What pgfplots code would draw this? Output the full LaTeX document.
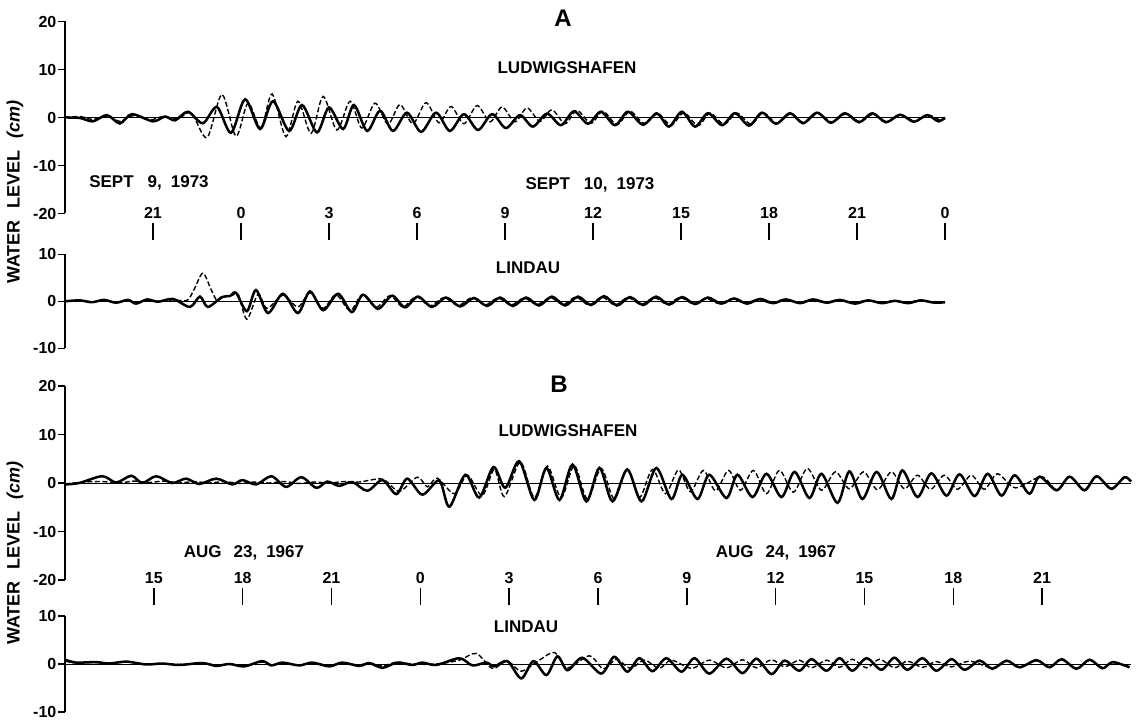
\documentclass[border=0pt]{standalone}
\usepackage{fontspec}
\setmainfont{Liberation Sans}
\usepackage{pgfplots}
\pgfplotsset{compat=1.18}
\pgfplotsset{
  data axis/.style={scale only axis, anchor=south west, width=880pt,
    axis y line=left, axis x line=none, axis line style={-, line width=1.4pt},
    tick align=outside, major tick length=7pt, ytick style={line width=1.4pt, black},
    yticklabel style={font=\fontsize{16}{16}\selectfont\bfseries, inner sep=1.5pt}, clip=false},
  ruler/.style={scale only axis, anchor=south west, width=880pt, height=17pt,
    ymin=0, ymax=1, axis line style={draw=none}, ytick=\empty,
    xtick pos=left, xticklabel pos=right, tick align=inside, major tick length=17pt,
    xtick style={line width=1.4pt, black},
    xticklabel style={font=\fontsize{16}{16}\selectfont\bfseries, inner sep=1pt, yshift=3pt}},
  sol/.style={black, line width=2.5pt, smooth, no markers},
  dsh/.style={black, line width=1.4pt, smooth, no markers, dash pattern=on 5pt off 2.5pt},
  zl/.style={black, line width=0.9pt, no markers},
}
\newcommand{\lab}{\fontsize{17}{17}\selectfont\bfseries}
\begin{document}
\begin{tikzpicture}
\useasboundingbox (0pt,0pt) rectangle (1140pt,720pt);
% ---------------- Panel A, Ludwigshafen ----------------
\begin{axis}[data axis, at={(65pt,506.5pt)}, height=192pt, xmin=-6, xmax=24, ymin=-20, ymax=20,
  ytick={-20,-10,0,10,20}, yticklabels={-20,-10,0,10,20}]
\addplot[zl] coordinates {(-6,0) (24,0)};
\addplot[sol] coordinates {(-6.00,0) (-5.49,-0.1) (-5.05,-0.8) (-4.57,0.5) (-4.13,-1.25) (-3.72,0.7) (-3.00,-0.8) (-2.59,0.2) (-2.25,-0.6) (-1.81,1.2) (-1.30,-1.2) (-0.82,2.2) (-0.34,-3.2) (0.14,3.8) (0.65,-2.4) (1.09,3.4) (1.64,-2.8) (2.08,2.6) (2.59,-3.1) (3.00,2.1) (3.48,-2.4) (3.85,2.6) (4.30,-2.8) (4.74,1.4) (5.18,-2.8) (5.66,1.0) (6.14,-3.0) (6.65,1.0) (7.12,-2.8) (7.60,0.7) (8.08,-2.6) (8.56,0.7) (9.03,-2.2) (9.51,0.5) (9.95,-1.9) (10.43,0.8) (10.91,-1.6) (11.35,1.3) (11.83,-1.3) (12.27,1.2) (12.75,-1.6) (13.19,1.2) (13.70,-1.5) (14.18,0.8) (14.59,-1.9) (15.03,1.2) (15.48,-1.9) (15.92,0.9) (16.40,-1.6) (16.84,0.9) (17.32,-1.7) (17.76,1.0) (18.24,-1.3) (18.72,0.9) (19.16,-1.2) (19.64,1.0) (20.11,-1.1) (20.59,0.9) (21.07,-1.0) (21.52,0.9) (21.99,-1.0) (22.47,0.6) (22.94,-0.9) (23.39,0.5) (23.77,-0.8) (24.00,0.0)};
\addplot[dsh] coordinates {(-6.00,0) (-5.49,0.2) (-5.05,-0.4) (-4.57,0.3) (-4.13,-0.8) (-3.68,0.4) (-3.10,-0.5) (-2.66,0.2) (-2.15,-0.3) (-1.70,1.0) (-1.16,-4.2) (-0.65,4.8) (-0.17,-3.9) (0.24,3.0) (0.68,-2.2) (1.06,4.9) (1.53,-4.0) (1.94,3.4) (2.39,-3.3) (2.80,4.4) (3.27,-2.6) (3.72,3.4) (4.12,-2.2) (4.57,3.0) (5.01,-1.4) (5.42,2.7) (5.86,-1.3) (6.31,3.1) (6.75,-1.1) (7.16,2.3) (7.60,-1.3) (8.05,2.5) (8.49,-0.9) (8.90,2.2) (9.34,-0.9) (9.75,2.0) (10.19,-0.8) (10.60,1.6) (11.05,-1.3) (11.45,1.5) (11.93,-1.2) (12.34,1.3) (12.82,-1.5) (13.26,1.3) (13.74,-1.2) (14.18,1.0) (14.66,-1.6) (15.10,1.0) (15.58,-1.7) (15.99,0.9) (16.47,-1.4) (16.91,0.9) (17.39,-1.4) (17.80,1.0) (18.27,-1.2) (18.75,0.8) (19.19,-1.1) (19.67,0.9) (20.15,-1.0) (20.63,0.8) (21.10,-0.9) (21.55,0.7) (22.02,-0.9) (22.50,0.5) (22.98,-0.8) (23.42,0.5) (23.83,-0.5) (24.00,-0.3)};
\end{axis}
% ruler A
\begin{axis}[ruler, at={(65pt,480pt)}, xmin=-6, xmax=24,
  xtick={-3,0,3,6,9,12,15,18,21,24}, xticklabels={21,0,3,6,9,12,15,18,21,0}]
\addplot[draw=none] coordinates {(0,0.5)};
\end{axis}
% ---------------- Panel A, Lindau ----------------
\begin{axis}[data axis, at={(65pt,371.7pt)}, height=94pt, xmin=-6, xmax=24, ymin=-10, ymax=10,
  ytick={-10,0,10}, yticklabels={-10,0,10}]
\addplot[zl] coordinates {(-6,0) (24,0)};
\addplot[sol] coordinates {(-6.00,0) (-5.49,0.2) (-5.08,-0.2) (-4.67,0.3) (-4.26,-0.3) (-3.85,0.3) (-3.58,-0.5) (-3.20,0.4) (-2.83,-0.1) (-2.32,0.5) (-1.74,-1.2) (-1.40,1.0) (-1.13,-1.2) (-0.65,0.9) (-0.38,1.1) (-0.17,1.8) (0.20,-2.1) (0.51,2.4) (0.92,-2.5) (1.43,1.6) (1.94,-2.5) (2.35,2.1) (2.80,-1.9) (3.31,1.6) (3.78,-2.3) (4.16,1.4) (4.67,-1.6) (5.15,1.2) (5.59,-1.3) (6.03,1.0) (6.51,-1.2) (6.99,0.8) (7.47,-1.1) (7.94,0.7) (8.39,-1.0) (8.83,0.8) (9.27,-1.0) (9.72,0.8) (10.16,-0.9) (10.60,1.0) (11.05,-0.9) (11.49,1.0) (11.93,-0.8) (12.38,1.1) (12.82,-0.9) (13.26,0.9) (13.71,-0.8) (14.15,1.0) (14.59,-0.7) (15.04,0.9) (15.48,-0.6) (15.92,0.8) (16.37,-0.5) (16.81,0.6) (17.25,-0.5) (17.70,0.5) (18.14,-0.4) (18.58,0.4) (19.06,-0.4) (19.50,0.4) (19.98,-0.3) (20.42,0.3) (20.93,-0.5) (21.38,0.2) (21.85,-0.4) (22.30,0.1) (22.74,-0.4) (23.18,0.2) (23.63,-0.3) (24.00,-0.2)};
\addplot[dsh] coordinates {(-6.00,0) (-5.49,0.1) (-5.08,-0.1) (-4.67,0.2) (-4.26,-0.2) (-3.85,0.1) (-3.58,-0.3) (-3.20,0.2) (-2.83,0.0) (-2.32,0.3) (-1.84,0.2) (-1.60,2.5) (-1.30,6.0) (-1.02,2.5) (-0.82,0.2) (-0.58,1.0) (-0.31,1.2) (-0.10,1.6) (0.20,-3.8) (0.58,1.5) (0.89,-1.5) (1.43,1.3) (1.94,-1.2) (2.35,1.8) (2.80,-1.5) (3.24,1.4) (3.72,-2.0) (4.13,1.4) (4.60,-1.3) (5.08,1.2) (5.52,-1.2) (5.97,1.0) (6.44,-1.0) (6.92,0.8) (7.40,-0.9) (7.88,0.8) (8.32,-0.8) (8.76,0.7) (9.21,-0.8) (9.65,0.7) (10.09,-0.7) (10.54,0.8) (10.98,-0.7) (11.42,0.9) (11.86,-0.8) (12.31,0.9) (12.75,-0.8) (13.19,0.8) (13.64,-0.7) (14.08,0.8) (14.52,-0.6) (14.97,0.8) (15.41,-0.5) (15.85,0.6) (16.30,-0.5) (16.74,0.5) (17.18,-0.4) (17.63,0.4) (18.07,-0.4) (18.51,0.4) (18.99,-0.3) (19.43,0.3) (19.91,-0.3) (20.35,0.3) (20.87,-0.4) (21.31,0.2) (21.79,-0.3) (22.23,0.1) (22.67,-0.3) (23.12,0.2) (23.56,-0.2) (24.00,-0.2)};
\end{axis}
% ---------------- Panel B, Ludwigshafen ----------------
\begin{axis}[data axis, at={(65pt,140pt)}, width=1066pt, height=194pt, xmin=-12, xmax=24, ymin=-20, ymax=20,
  ytick={-20,-10,0,10,20}, yticklabels={-20,-10,0,10,20}]
\addplot[zl] coordinates {(-12,0) (24,0)};
\addplot[sol] coordinates {(-12.00,-0.3) (-11.52,0.0) (-10.74,1.4) (-10.27,0.1) (-9.76,1.5) (-9.39,0.0) (-8.92,1.4) (-8.38,0.0) (-7.91,0.9) (-7.47,-0.2) (-6.89,0.9) (-6.35,-0.3) (-6.01,0.6) (-5.54,-0.3) (-5.03,1.4) (-4.53,-0.8) (-4.02,1.2) (-3.51,-1.0) (-3.14,0.3) (-2.74,-0.6) (-2.30,0.2) (-1.79,-1.6) (-1.28,0.6) (-0.81,-2.3) (-0.44,0.9) (0.07,-2.4) (0.64,0.5) (0.98,-4.9) (1.52,1.7) (1.99,-3.0) (2.47,3.3) (2.87,-1.0) (3.34,4.5) (3.85,-3.5) (4.26,3.1) (4.70,-3.5) (5.14,3.8) (5.61,-3.8) (6.05,3.1) (6.49,-3.8) (6.99,2.8) (7.47,-3.8) (7.97,3.1) (8.48,-3.3) (8.85,1.7) (9.36,-3.3) (9.76,1.7) (10.34,-3.1) (10.71,1.7) (11.22,-2.9) (11.69,1.9) (12.20,-2.9) (12.64,2.3) (13.14,-3.1) (13.55,1.9) (14.09,-4.1) (14.49,2.4) (14.93,-3.3) (15.41,2.3) (15.91,-3.3) (16.28,2.6) (16.79,-2.9) (17.26,2.0) (17.77,-2.6) (18.21,1.8) (18.72,-2.7) (19.16,1.9) (19.63,-2.6) (20.07,1.6) (20.57,-2.2) (20.91,1.3) (21.49,-1.5) (21.93,1.3) (22.43,-1.5) (22.84,1.4) (23.34,-1.2) (23.78,1.2) (24.00,0.3)};
\addplot[dsh] coordinates {(-12.00,-0.2) (-11.35,0.2) (-10.74,0.3) (-10.17,0.0) (-9.66,0.4) (-9.16,0.1) (-8.65,0.4) (-8.14,0.0) (-7.64,0.3) (-7.13,0.0) (-6.62,0.3) (-6.11,-0.1) (-5.61,0.2) (-5.10,0.0) (-4.59,0.3) (-4.09,-0.1) (-3.58,0.2) (-3.07,0.0) (-2.57,0.3) (-2.06,0.2) (-1.28,0.8) (-0.71,-1.7) (-0.10,1.2) (0.24,-0.8) (0.57,1.0) (1.15,-2.2) (1.59,1.6) (2.09,-2.6) (2.50,2.8) (2.84,-2.8) (3.38,4.3) (3.85,-3.0) (4.29,3.5) (4.76,-3.0) (5.20,3.6) (5.64,-3.3) (6.11,3.0) (6.55,-3.3) (6.99,2.8) (7.40,-3.0) (7.84,2.8) (8.28,-2.2) (8.72,2.7) (9.12,-1.8) (9.56,2.6) (9.97,-1.6) (10.41,2.6) (10.81,-1.5) (11.25,2.6) (11.69,-2.2) (12.13,2.6) (12.60,-1.9) (13.07,3.0) (13.55,-1.5) (14.02,2.3) (14.49,-1.2) (14.97,2.3) (15.44,-1.4) (15.91,2.3) (16.35,-1.2) (16.79,1.6) (17.23,-1.3) (17.70,1.6) (18.14,-1.3) (18.61,1.6) (19.05,-1.3) (19.49,1.9) (20.10,-1.0) (20.98,1.3) (21.49,-1.4) (21.93,1.3) (22.43,-1.4) (22.84,1.3) (23.34,-1.1) (23.78,1.1) (24.00,0.4)};
\end{axis}
% ruler B
\begin{axis}[ruler, at={(65pt,115pt)}, width=1066pt, xmin=-12, xmax=24,
  xtick={-9,-6,-3,0,3,6,9,12,15,18,21}, xticklabels={15,18,21,0,3,6,9,12,15,18,21}]
\addplot[draw=none] coordinates {(0,0.5)};
\end{axis}
% ---------------- Panel B, Lindau ----------------
\begin{axis}[data axis, at={(65pt,8pt)}, width=1066pt, height=96pt, xmin=-12, xmax=24, ymin=-10, ymax=10,
  ytick={-10,0,10}, yticklabels={-10,0,10}]
\addplot[zl] coordinates {(-12,0) (24,0)};
\addplot[sol] coordinates {(-12.00,0.9) (-11.62,0.3) (-10.95,0.4) (-10.51,0.1) (-9.93,0.5) (-9.26,-0.1) (-8.72,0.1) (-8.14,-0.2) (-7.36,0.2) (-6.89,-0.4) (-6.45,0.0) (-5.95,-0.5) (-5.34,0.6) (-5.03,-0.3) (-4.66,0.3) (-4.09,-0.3) (-3.65,0.3) (-3.07,-0.5) (-2.64,0.3) (-2.06,-0.4) (-1.72,0.2) (-1.28,-0.8) (-0.78,0.3) (-0.27,-0.2) (0.07,0.3) (0.54,-0.2) (1.32,1.2) (1.76,-0.3) (2.23,0.3) (2.50,-0.5) (2.94,0.6) (3.41,-3.0) (3.82,0.6) (4.26,-2.3) (4.63,1.6) (4.97,-1.3) (5.47,1.3) (6.11,-2.0) (6.55,1.5) (6.99,-1.6) (7.40,1.2) (7.84,-1.5) (8.31,1.2) (8.82,-1.6) (9.26,1.2) (9.76,-2.0) (10.34,1.1) (10.88,-1.9) (11.35,1.1) (11.86,-2.1) (12.30,0.7) (12.80,-1.4) (13.21,1.0) (13.72,-1.4) (14.16,1.2) (14.59,-1.4) (15.07,1.2) (15.57,-1.2) (16.01,1.3) (16.45,-1.2) (16.96,1.2) (17.43,-1.4) (17.94,1.0) (18.38,-1.2) (18.89,0.7) (19.32,-1.0) (19.80,0.7) (20.24,-0.7) (20.81,0.8) (21.25,-0.7) (21.66,1.0) (22.16,-1.0) (22.60,0.9) (23.04,-0.9) (23.38,0.4) (23.95,-0.7)};
\addplot[dsh] coordinates {(-12.00,0.6) (-11.62,0.2) (-10.95,0.3) (-10.51,0.1) (-9.93,0.4) (-9.26,0.0) (-8.72,0.1) (-8.14,-0.1) (-7.36,0.2) (-6.89,-0.3) (-6.45,0.0) (-5.95,-0.3) (-5.34,0.4) (-5.03,-0.2) (-4.66,0.2) (-4.09,-0.2) (-3.65,0.2) (-3.07,-0.3) (-2.64,0.2) (-2.06,-0.2) (-1.72,0.2) (-1.28,-0.4) (-0.78,0.4) (-0.27,0.0) (0.54,0.0) (1.32,0.8) (1.89,2.2) (2.43,-0.9) (2.94,0.6) (3.41,-1.5) (4.02,0.8) (4.53,2.4) (4.97,-0.8) (5.71,1.7) (6.18,-1.0) (6.62,1.0) (7.09,-0.9) (7.57,0.8) (8.07,-0.9) (8.48,0.8) (9.16,-0.9) (9.76,0.8) (10.34,-0.8) (10.88,0.9) (11.35,-0.8) (11.86,0.9) (12.30,-0.6) (12.80,0.8) (13.21,-0.8) (13.72,0.8) (14.16,-0.7) (14.59,1.0) (15.07,-0.8) (15.51,1.0) (16.01,-0.8) (16.45,0.6) (16.96,-0.7) (17.43,0.5) (17.94,-0.6) (18.55,0.6) (19.32,-0.8) (19.80,0.6) (20.24,-0.6) (20.81,0.7) (21.25,-0.6) (21.66,0.9) (22.16,-0.9) (22.60,0.8) (23.04,-0.8) (23.38,0.3) (23.95,-0.6)};
\end{axis}
% ---------------- Text ----------------
\node[font=\fontsize{24}{24}\selectfont\bfseries] at (563pt,702pt) {A};
\node[font=\lab] at (567pt,652pt) {LUDWIGSHAFEN};
\node[font=\lab] at (149pt,537pt) {SEPT\hspace{14pt}9,\hspace{9pt}1973};
\node[font=\lab] at (590pt,535pt) {SEPT\hspace{14pt}10,\hspace{9pt}1973};
\node[font=\lab] at (528pt,452pt) {LINDAU};
\node[font=\fontsize{24}{24}\selectfont\bfseries] at (559pt,336pt) {B};
\node[font=\lab] at (568pt,289pt) {LUDWIGSHAFEN};
\node[font=\lab] at (244pt,167pt) {AUG\hspace{12pt}23,\hspace{9pt}1967};
\node[font=\lab] at (776pt,167pt) {AUG\hspace{12pt}24,\hspace{9pt}1967};
\node[font=\lab] at (526pt,93pt) {LINDAU};
\node[font=\fontsize{18}{18}\selectfont\bfseries, rotate=90] at (15pt,528pt) {WATER\hspace{12pt}LEVEL\hspace{12pt}\textit{(cm)}};
\node[font=\fontsize{18}{18}\selectfont\bfseries, rotate=90] at (15pt,167pt) {WATER\hspace{12pt}LEVEL\hspace{12pt}\textit{(cm)}};
\end{tikzpicture}
\end{document}
